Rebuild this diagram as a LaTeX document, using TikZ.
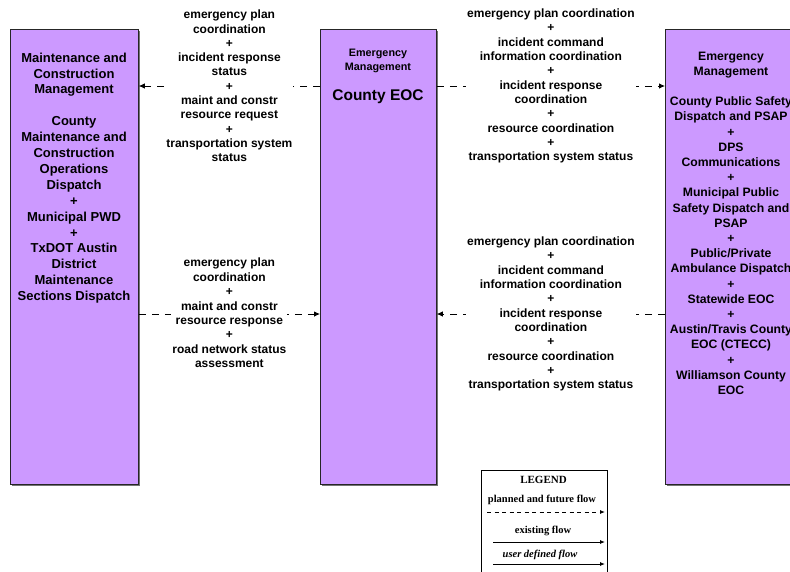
\documentclass[tikz,border=0pt]{standalone}
\usepackage{fontspec}
\setmainfont{Liberation Sans}
\newfontfamily\legfont{Liberation Serif}
\usetikzlibrary{arrows.meta,shadows}
\definecolor{boxpurple}{RGB}{204,153,255}
\begin{document}
\begin{tikzpicture}[x=1pt,y=-1pt,
  box/.style={draw=black!85, line width=0.8pt, fill=boxpurple, anchor=north west, inner sep=0pt,
    drop shadow={shadow xshift=1.5pt, shadow yshift=-1.5pt, fill=black!55, opacity=1}},
  boxtxt/.style={anchor=north, align=center, inner sep=0pt},
  flow/.style={line width=0.8pt, dash pattern=on 7pt off 6pt, -{Latex[length=6pt,width=5.5pt]}},
  lbl/.style={fill=white, inner sep=1pt, align=center, font=\fontsize{12}{14.3}\selectfont\bfseries},
  legtxt/.style={inner sep=0pt, font=\legfont\fontsize{10.5}{12}\selectfont\bfseries},
  legarrow/.style={line width=0.9pt, -{Latex[length=5pt,width=4pt]}}
]
\useasboundingbox (0,0) rectangle (790,571);
\fill[white] (0,0) rectangle (790,571);
\clip (0,0) rectangle (790,571);

% boxes
\node[box, minimum width=128pt, minimum height=455pt] (L) at (10,29) {};
\node[box, minimum width=116pt, minimum height=455pt] (M) at (320,29) {};
\node[box, minimum width=135pt, minimum height=455pt] (R) at (665,29) {};

% box texts
\node[boxtxt, font=\fontsize{13}{15.9}\selectfont\bfseries] (Lt) at (74,52.5)
  {Maintenance and\\Construction\\Management\\[15.9pt]County\\Maintenance and\\Construction\\Operations\\Dispatch\\+\\Municipal PWD\\+\\TxDOT Austin\\District\\Maintenance\\Sections Dispatch};
\node[boxtxt, font=\fontsize{10.8}{14}\selectfont\bfseries] (Mt) at (378,49)
  {Emergency\\Management};
\node[inner sep=0pt, font=\fontsize{15.5}{18}\selectfont\bfseries] (Mt2) at (378,97) {County EOC};
\node[boxtxt, font=\fontsize{12.2}{15.2}\selectfont\bfseries] (Rt) at (731,51.5)
  {Emergency\\Management\\[15.2pt]County Public Safety\\Dispatch and PSAP\\+\\DPS\\Communications\\+\\Municipal Public\\Safety Dispatch and\\PSAP\\+\\Public/Private\\Ambulance Dispatch\\+\\Statewide EOC\\+\\Austin/Travis County\\EOC (CTECC)\\+\\Williamson County\\EOC};

% flows
\coordinate (ytop) at (0,86);
\coordinate (ybot) at (0,314);

\draw[flow] (M.west |- ytop) -- node[lbl] (l1)
  {emergency plan\\coordination\\+\\incident response\\status\\+\\maint and constr\\resource request\\+\\transportation system\\status} (L.east |- ytop);
\draw[flow] (M.east |- ytop) -- node[lbl] (l2)
  {emergency plan coordination\\+\\incident command\\information coordination\\+\\incident response\\coordination\\+\\resource coordination\\+\\transportation system status} (R.west |- ytop);
\draw[flow] (L.east |- ybot) -- node[lbl, font=\fontsize{12}{14.45}\selectfont\bfseries, yshift=1pt] (l3)
  {emergency plan\\coordination\\+\\maint and constr\\resource response\\+\\road network status\\assessment} (M.west |- ybot);
\draw[flow] (R.west |- ybot) -- node[lbl] (l4)
  {emergency plan coordination\\+\\incident command\\information coordination\\+\\incident response\\coordination\\+\\resource coordination\\+\\transportation system status} (M.east |- ybot);

% legend
\node[draw, line width=0.8pt, fill=white, anchor=north west, inner sep=0pt,
  minimum width=126pt, minimum height=110pt] (Lg) at (481,470) {};
\node[legtxt, font=\legfont\fontsize{11}{12}\selectfont\bfseries] (lgT) at (543.5,480) {LEGEND};
\node[legtxt] (lgP) at (542,500) {planned and future flow};
\coordinate (pa) at (487,512);
\coordinate (pb) at (605,512);
\draw[legarrow, dash pattern=on 4pt off 3.5pt] (pa) -- (pb);
\node[legtxt] (lgE) at (543,531) {existing flow};
\coordinate (ea) at (493,542);
\coordinate (eb) at (605,542);
\draw[legarrow] (ea) -- (eb);
\node[legtxt, font=\legfont\fontsize{10.5}{12}\selectfont\bfseries\itshape] (lgU) at (540,555) {user defined flow};
\coordinate (ua) at (493,564);
\coordinate (ub) at (605,564);
\draw[legarrow] (ua) -- (ub);
\end{tikzpicture}
\end{document}
